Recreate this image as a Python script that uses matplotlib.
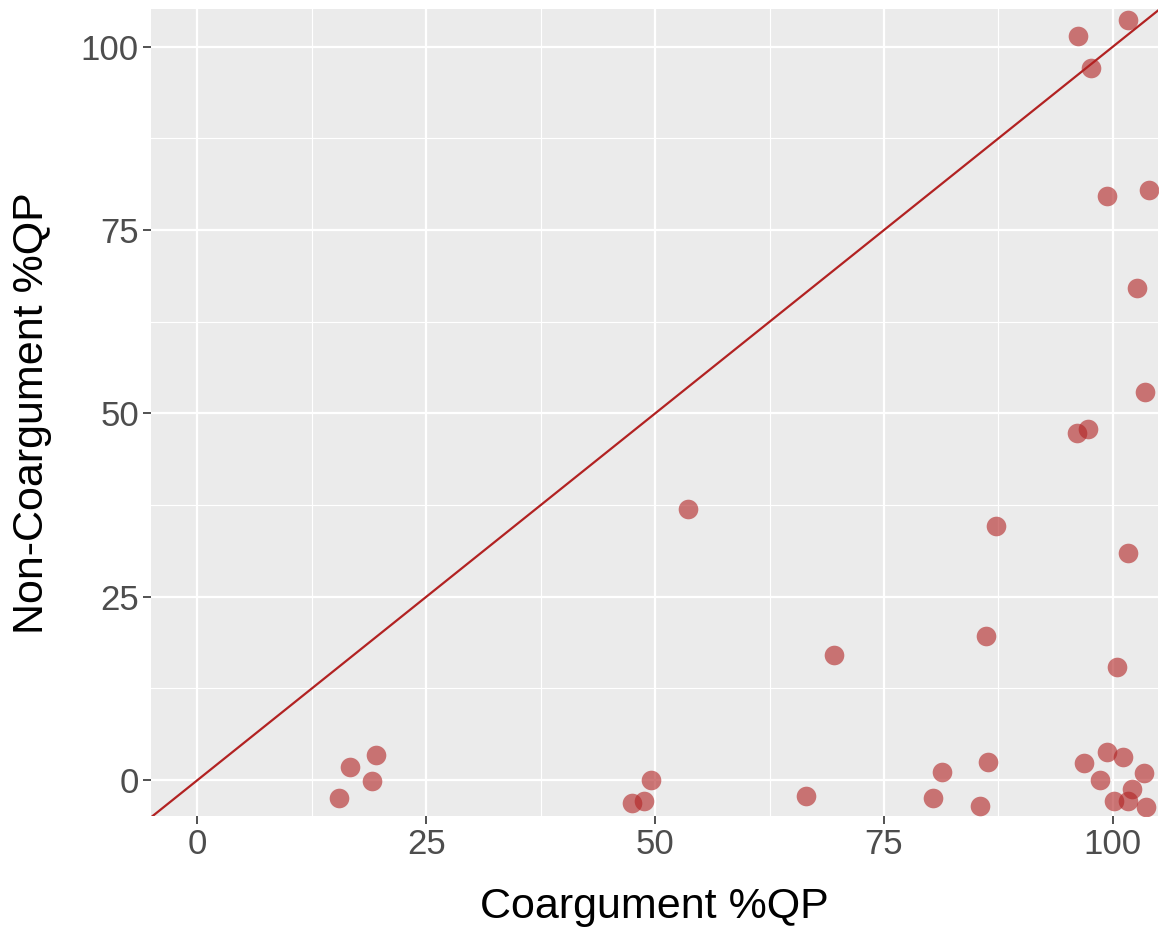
import matplotlib
matplotlib.use("Agg")
import matplotlib.pyplot as plt
from matplotlib.ticker import MultipleLocator

plt.rcParams['font.family'] = ['Liberation Sans', 'DejaVu Sans']

coargument = [101.7, 96.2, 97.6, 99.4, 103.9, 102.6, 103.5, 96.1, 97.3, 53.6,
              87.2, 101.7, 86.1, 69.5, 100.5, 19.5, 16.7, 19.1, 15.5, 49.5,
              48.8, 47.5, 66.5, 81.3, 80.3, 86.4, 85.5, 96.8, 99.4, 101.1,
              98.6, 103.4, 102.1, 100.1, 101.7, 103.6]
non_coargument = [103.6, 101.5, 97.1, 79.6, 80.5, 67.1, 52.9, 47.3, 47.9, 37.0,
                  34.6, 31.0, 19.6, 17.0, 15.4, 3.4, 1.8, -0.1, -2.5, 0.0,
                  -2.9, -3.1, -2.2, 1.1, -2.5, 2.5, -3.5, 2.3, 3.8, 3.1,
                  0.0, 1.0, -1.2, -2.9, -2.9, -3.7]
tick_values = [0, 25, 50, 75, 100]

fig = plt.figure(figsize=(11.6, 9.31), dpi=100)
ax = fig.add_axes([0.130, 0.1235, 0.868, 0.8665])
ax.set_facecolor('#EBEBEB')
for s in ax.spines.values():
    s.set_visible(False)

ax.set_xlim(-5.1, 104.9)
ax.set_ylim(-4.9, 105.1)
ax.set_xticks(tick_values)
ax.set_yticks(tick_values)
ax.xaxis.set_minor_locator(MultipleLocator(12.5))
ax.yaxis.set_minor_locator(MultipleLocator(12.5))
ax.grid(True, which='major', color='white', linewidth=1.6)
ax.grid(True, which='minor', color='white', linewidth=0.8)
ax.set_axisbelow(True)
ax.tick_params(which='minor', length=0)
ax.tick_params(which='major', length=5.5, width=1.2, color='#333333',
               labelsize=25, labelcolor='#4D4D4D', pad=3)

ax.axline((0, 0), slope=1, color='#B22222', linewidth=1.6, zorder=2)
ax.scatter(coargument, non_coargument, s=200, color='#B22222', alpha=0.6,
           linewidths=0, zorder=3)

ax.set_xlabel('Coargument %QP', fontsize=31, color='black', labelpad=19)
ax.set_ylabel('Non-Coargument %QP', fontsize=31, color='black', labelpad=21)

fig.savefig('out.png', dpi=100)
